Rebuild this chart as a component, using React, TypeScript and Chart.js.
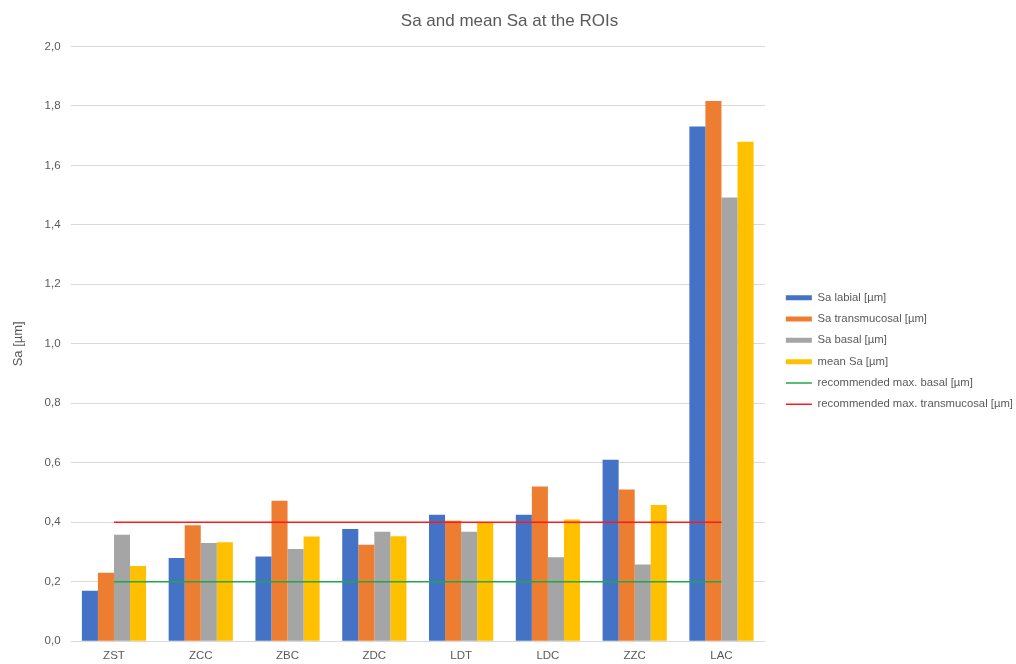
import React, { useEffect, useRef } from "react";
import { Chart, registerables } from "chart.js";

Chart.register(...registerables);

const categories = ["ZST", "ZCC", "ZBC", "ZDC", "LDT", "LDC", "ZZC", "LAC"];
const saLabial = [0.17, 0.28, 0.285, 0.377, 0.425, 0.425, 0.61, 1.731];
const saTransmucosal = [0.23, 0.39, 0.472, 0.324, 0.405, 0.52, 0.51, 1.816];
const saBasal = [0.358, 0.33, 0.31, 0.368, 0.368, 0.282, 0.258, 1.492];
const meanSa = [0.253, 0.333, 0.352, 0.353, 0.398, 0.409, 0.458, 1.679];
const maxBasal = [0.2, 0.2, 0.2, 0.2, 0.2, 0.2, 0.2, 0.2];
const maxTransmucosal = [0.4, 0.4, 0.4, 0.4, 0.4, 0.4, 0.4, 0.4];

const FONT = "'Liberation Sans', Arial, sans-serif";
const TEXT = "#595959";

// Nudges the legend block right and down after layout, leaving the plot area in place.
const legendOffset = {
  id: "legendOffset",
  afterLayout(chart: any) {
    const lg = chart.legend;
    if (!lg) return;
    const dx = 11;
    const dy = 15.5;
    lg.left += dx;
    lg.right += dx;
    lg.top += dy;
    lg.bottom += dy;
  },
};

export default function App() {
  const ref = useRef<HTMLCanvasElement>(null);

  useEffect(() => {
    document.body.style.margin = "0";
    const canvas = ref.current;
    if (!canvas) return;
    const bar = (label: string, data: number[], color: string) => ({
      type: "bar" as const,
      label,
      data,
      backgroundColor: color,
      borderWidth: 0,
      order: 1,
      categoryPercentage: 0.74,
      barPercentage: 1.0,
    });
    const line = (label: string, data: number[], color: string) => ({
      type: "line" as const,
      label,
      data,
      borderColor: color,
      backgroundColor: color,
      borderWidth: 1.5,
      pointRadius: 0,
      pointStyle: "line" as const,
      order: 0,
    });
    const chart = new Chart(canvas, {
      type: "bar",
      data: {
        labels: categories,
        datasets: [
          bar("Sa labial [µm]", saLabial, "#4472C4"),
          bar("Sa transmucosal [µm]", saTransmucosal, "#ED7D31"),
          bar("Sa basal [µm]", saBasal, "#A5A5A5"),
          bar("mean Sa [µm]", meanSa, "#FFC000"),
          line("recommended max. basal [µm]", maxBasal, "#1FA84A"),
          line("recommended max. transmucosal [µm]", maxTransmucosal, "#FF1A1A"),
        ] as any,
      },
      plugins: [legendOffset],
      options: {
        responsive: false,
        animation: false,
        layout: { padding: { left: 7, right: 4, top: 0, bottom: -7 } },
        plugins: {
          title: {
            display: true,
            text: "Sa and mean Sa at the ROIs",
            color: TEXT,
            font: { family: FONT, size: 17, weight: "normal" },
            padding: { top: 11, bottom: 15 },
          },
          legend: {
            position: "right",
            labels: {
              color: TEXT,
              font: { family: FONT, size: 11.3 },
              usePointStyle: true,
              pointStyleWidth: 26,
              boxHeight: 5,
              padding: 10,
              sort: (a: any, b: any) => a.datasetIndex - b.datasetIndex,
              generateLabels: (c: Chart) => {
                const items = Chart.defaults.plugins.legend.labels.generateLabels(c);
                return items.map((it: any) => {
                  const ds: any = c.data.datasets[it.datasetIndex];
                  if (ds.type === "line") {
                    return { ...it, pointStyle: "line", lineWidth: 1.5, strokeStyle: ds.borderColor };
                  }
                  return { ...it, pointStyle: "rect", lineWidth: 0, fillStyle: ds.backgroundColor };
                });
              },
            },
          },
          tooltip: { enabled: false },
        },
        scales: {
          x: {
            grid: { display: false, drawTicks: false },
            border: { display: false },
            ticks: { color: TEXT, font: { family: FONT, size: 11.5 }, padding: 8 },
          },
          y: {
            min: 0,
            max: 2,
            border: { display: false },
            grid: { color: "#D9D9D9", lineWidth: 1, drawTicks: false },
            ticks: {
              stepSize: 0.2,
              color: TEXT,
              font: { family: FONT, size: 11.5 },
              padding: 10,
              callback: (v: any) => Number(v).toFixed(1).replace(".", ","),
            },
            title: {
              display: true,
              text: "Sa [µm]",
              color: TEXT,
              font: { family: FONT, size: 13 },
              padding: { top: 4, bottom: 8 },
            },
          },
        },
      },
    });
    return () => chart.destroy();
  }, []);

  return <canvas ref={ref} width={1016} height={664} style={{ display: "block" }} />;
}
